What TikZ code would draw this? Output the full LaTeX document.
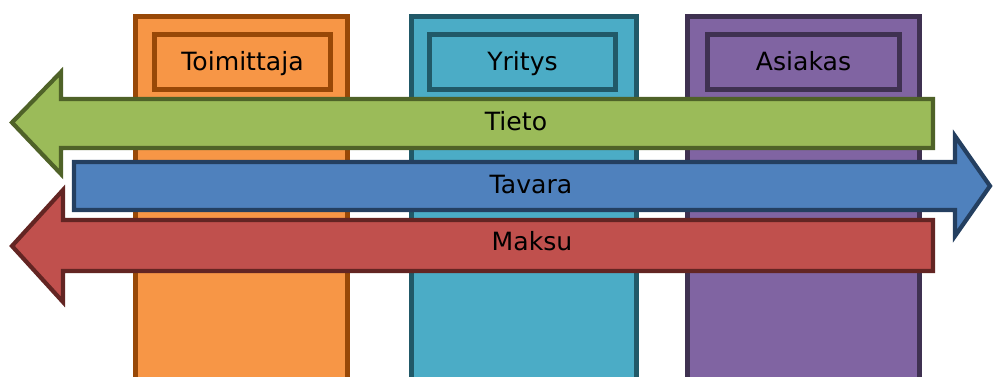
\documentclass[tikz,border=0pt]{standalone}
\usepackage{fontspec}
\setmainfont{DejaVu Sans}
\usepackage{tikz}
\usetikzlibrary{positioning,calc}
\tikzset{every node/.append style={align=center}}
\definecolor{supplierfill}{RGB}{247, 150, 70}
\definecolor{supplierline}{RGB}{152, 72, 7}
\definecolor{companyfill}{RGB}{75, 172, 198}
\definecolor{companyline}{RGB}{33, 89, 104}
\definecolor{customerfill}{RGB}{128, 100, 162}
\definecolor{customerline}{RGB}{63, 49, 81}
\definecolor{infofill}{RGB}{155, 187, 89}
\definecolor{infoline}{RGB}{79, 98, 40}
\definecolor{goodsfill}{RGB}{79, 129, 189}
\definecolor{goodsline}{RGB}{36, 63, 96}
\definecolor{payfill}{RGB}{192, 80, 77}
\definecolor{payline}{RGB}{99, 37, 35}

\begin{document}
\begin{tikzpicture}[
    x=0.02cm, y=-0.02cm,
    column/.style={draw, line width=3pt},
    label/.style={draw, line width=2.8pt, minimum height=1.1cm, text height=2ex, text depth=0.3ex, font=\fontsize{14.3}{17}\selectfont},
    band/.style={draw, line width=2.4pt, line join=miter},
    bandtext/.style={text height=2ex, text depth=0.3ex, font=\fontsize{14.3}{17}\selectfont}
]
    \clip (0,0) rectangle (995,376);
    \useasboundingbox (0,0) rectangle (995,376);

    % Columns
    \draw[column, fill=supplierfill, draw=supplierline] (135.5,16.5) rectangle (347.5,400);
    \draw[column, fill=companyfill, draw=companyline] (411.5,16.5) rectangle (636.5,400);
    \draw[column, fill=customerfill, draw=customerline] (687.5,16.5) rectangle (919.5,400);

    % Column headers
    \node[label, fill=supplierfill, draw=supplierline, minimum width=3.52cm] (supplier) at (242.5,62) {Toimittaja};
    \node[label, fill=companyfill, draw=companyline, minimum width=3.72cm] (company) at (522.5,62) {Yritys};
    \node[label, fill=customerfill, draw=customerline, minimum width=3.84cm] (customer) at (803.5,62) {Asiakas};

    % Flows
    \draw[band, fill=infofill, draw=infoline]
        (12,122.5) -- (61,72) -- (61,99) -- (933,99) -- (933,148) -- (61,148) -- (61,174) -- cycle;
    \node[bandtext] (info) at (516,122) {Tieto};

    \draw[band, fill=goodsfill, draw=goodsline]
        (74,162) -- (955,162) -- (955,136) -- (990,186) -- (955,236) -- (955,210) -- (74,210) -- cycle;
    \node[bandtext] (goods) at (531,185.5) {Tavara};

    \draw[band, fill=payfill, draw=payline]
        (12,246) -- (63,190) -- (63,220) -- (933,220) -- (933,271) -- (63,271) -- (63,302) -- cycle;
    \node[bandtext] (payment) at (532,242.5) {Maksu};

\end{tikzpicture}
\end{document}
